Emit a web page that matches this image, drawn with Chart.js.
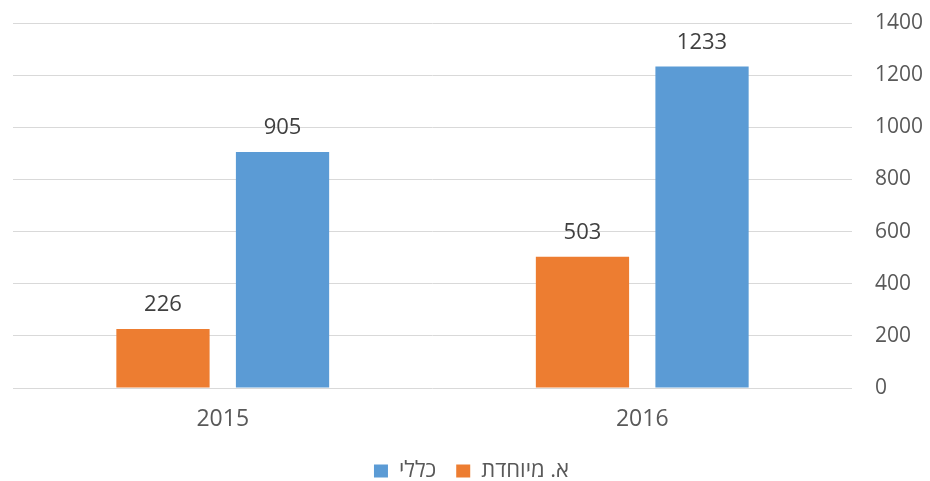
<!DOCTYPE html>
<html>
<head>
<meta charset="utf-8">
<script src="https://cdn.jsdelivr.net/npm/chart.js@4"></script>
<style>
html,body{margin:0;padding:0;background:#fff;}
#wrap{width:930px;height:481px;position:relative;}
</style>
</head>
<body>
<div id="wrap"><canvas id="c" width="930" height="481"></canvas></div>
<script>
const categories = ['2015', '2016'];
const seriesNames = ['א. מיוחדת', 'כללי'];
const specialValues = [226, 503];
const generalValues = [905, 1233];
const yTicks = [0, 200, 400, 600, 800, 1000, 1200, 1400];

const FONT = "'Open Sans', 'Liberation Sans', 'DejaVu Sans', sans-serif";

const dataLabels = {
  id: 'dataLabels',
  afterDatasetsDraw(chart) {
    const ctx = chart.ctx;
    ctx.save();
    ctx.font = '22px ' + FONT;
    ctx.fillStyle = '#404040';
    ctx.textAlign = 'center';
    ctx.textBaseline = 'alphabetic';
    chart.data.datasets.forEach((ds, i) => {
      const meta = chart.getDatasetMeta(i);
      meta.data.forEach((bar, j) => {
        ctx.fillText(String(ds.data[j]), bar.x, bar.y - 18);
      });
    });
    ctx.restore();
  }
};

new Chart(document.getElementById('c'), {
  type: 'bar',
  data: {
    labels: categories,
    datasets: [
      { label: seriesNames[0], data: specialValues, backgroundColor: '#ED7D31', categoryPercentage: 0.57, barPercentage: 0.78 },
      { label: seriesNames[1], data: generalValues, backgroundColor: '#5B9BD5', categoryPercentage: 0.57, barPercentage: 0.78 }
    ]
  },
  options: {
    responsive: false,
    animation: false,
    devicePixelRatio: 1,
    layout: { padding: { left: 13, right: 0, top: 0, bottom: -11 } },
    plugins: {
      legend: {
        position: 'bottom',
        reverse: true,
        labels: {
          font: { family: FONT, size: 22 },
          color: '#595959',
          boxWidth: 14,
          boxHeight: 13,
          padding: 20
        }
      },
      tooltip: { enabled: false }
    },
    scales: {
      x: {
        grid: { display: false },
        border: { display: false },
        afterFit(scale) { scale.height = 52; },
        ticks: { font: { family: FONT, size: 23 }, color: '#595959', padding: 10 }
      },
      y: {
        position: 'right',
        min: 0,
        max: 1400,
        afterBuildTicks(scale) { scale.ticks = yTicks.map(v => ({ value: v })); },
        afterFit(scale) { scale.width = 78; scale.paddingTop = 23; },
        grid: { color: '#D9D9D9', lineWidth: 1, drawTicks: false },
        border: { display: false },
        ticks: { font: { family: FONT, size: 21 }, color: '#595959', padding: 23, callback: v => String(v) }
      }
    }
  },
  plugins: [dataLabels]
});
</script>
</body>
</html>
